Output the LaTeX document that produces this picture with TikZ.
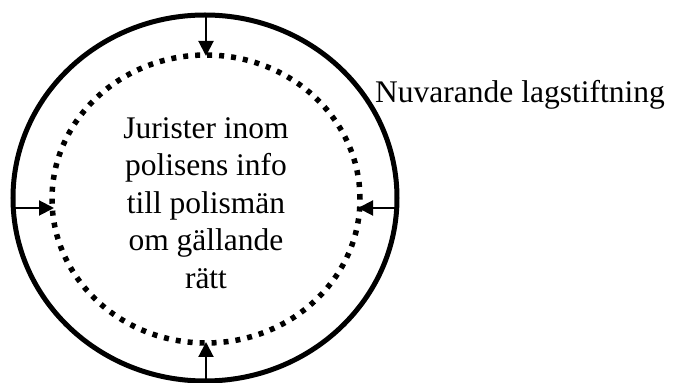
\documentclass[tikz,border=0pt]{standalone}
\usepackage{fontspec}
\setmainfont{Liberation Serif}
\usetikzlibrary{arrows.meta,shapes.geometric}
\begin{document}
\begin{tikzpicture}[x=1pt,y=1pt,
  outerring/.style={draw=black,line width=5pt,ellipse,minimum width=384pt,minimum height=366pt,inner sep=0pt},
  innerring/.style={draw=black,line width=5.5pt,ellipse,dash pattern=on 5pt off 7pt,minimum width=308pt,minimum height=288pt,inner sep=0pt},
  inarrow/.style={-{Triangle[length=15pt,width=15pt]},line width=2pt,shorten >=-1pt},
  bigtext/.style={font=\fontsize{31.5}{37.5}\selectfont}]
\useasboundingbox (0,0) rectangle (673,383);
\node[outerring] (outer) at (205,185) {};
\node[innerring] (inner) at (206,184) {};
\node[bigtext,align=center] (txt) at (206,180) {Jurister inom\\polisens info\\till polismän\\om gällande\\rätt};
\node[bigtext,anchor=base west,inner sep=0pt] (lbl) at (375,280) {Nuvarande lagstiftning};
\coordinate (ot) at (206,368);
\coordinate (it) at (206,328);
\coordinate (ob) at (206,2);
\coordinate (ib) at (206,40);
\coordinate (ol) at (13,175);
\coordinate (il) at (53,175);
\coordinate (or) at (397,175);
\coordinate (ir) at (359,175);
\draw[inarrow] (ot) -- (it);
\draw[inarrow] (ob) -- (ib);
\draw[inarrow] (ol) -- (il);
\draw[inarrow] (or) -- (ir);
\end{tikzpicture}
\end{document}
